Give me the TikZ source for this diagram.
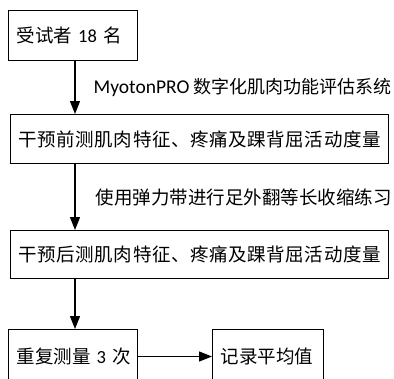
\documentclass[tikz,border=0pt]{standalone}
\usepackage{fontspec}
\setmainfont{Carlito}
\newfontfamily\cjk{Noto Sans CJK SC}
\usetikzlibrary{arrows.meta}
\newcommand\spreadit[1]{\spreadloop#1\relax}
\def\spreadloop#1{\ifx#1\relax\else#1\kern0.6pt\expandafter\spreadloop\fi}
\begin{document}
\begin{tikzpicture}[x=1pt,y=-1pt,
  box/.style={draw, line width=1pt, inner xsep=8pt, inner ysep=0pt, align=left, anchor=north west,
    font=\fontsize{18.5}{22}\selectfont},
  arr/.style={line width=1.3pt, -{Triangle[length=13pt,width=10pt]}},
  lbl/.style={anchor=west, inner sep=0pt}]
\useasboundingbox (0,0) rectangle (394,378);
\clip (0,0) rectangle (394,378);
\node[box, text width=113pt, minimum height=50pt] (b1) at (8,10) {\mbox{{\cjk 受试者} 18 {\cjk 名}}};
\node[box, text width=362pt, minimum height=49pt] (b2) at (10,114) {\mbox{\cjk\spreadit{干预前测肌肉特征、疼痛及踝背屈活动度量}}};
\node[box, text width=362pt, minimum height=48pt] (b3) at (10,230) {\mbox{\cjk\spreadit{干预后测肌肉特征、疼痛及踝背屈活动度量}}};
\node[box, text width=113pt, minimum height=54pt] (b4) at (8,329) {\mbox{{\cjk 重复测量} 3 {\cjk 次}}};
\node[box, text width=95pt, minimum height=54pt] (b5) at (212,329) {\mbox{\cjk 记录平均值}};
\coordinate (ax) at (75,0);
\draw[arr] (b1.south -| ax) -- node[lbl, xshift=18pt, font=\fontsize{19.5}{22}\selectfont] {MyotonPRO {\fontsize{18}{22}\selectfont\cjk 数字化肌肉功能评估系统}} (b2.north -| ax);
\draw[arr] (b2.south -| ax) -- node[lbl, xshift=20pt, font=\fontsize{18.5}{22}\selectfont\cjk] {使用弹力带进行足外翻等长收缩练习} (b3.north -| ax);
\draw[arr] (b3.south -| ax) -- (b4.north -| ax);
\draw[arr] (b4.east) -- (b5.west);
\end{tikzpicture}
\end{document}
